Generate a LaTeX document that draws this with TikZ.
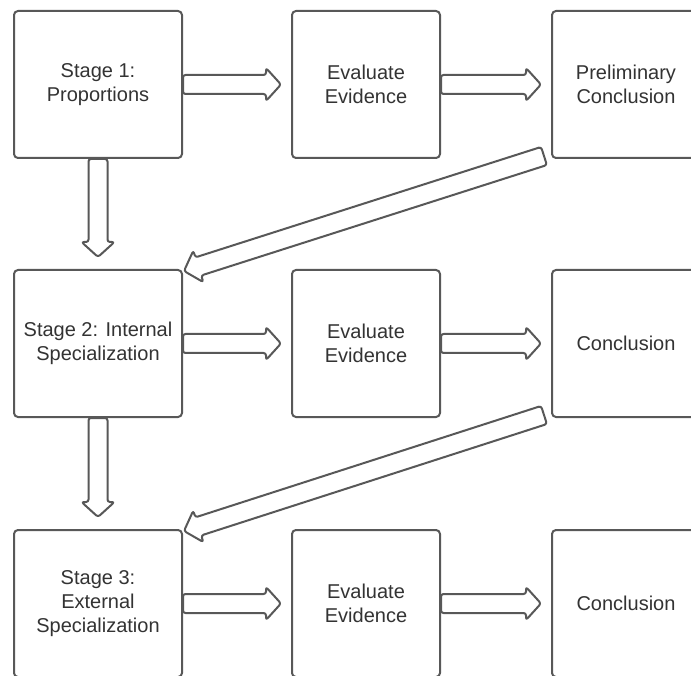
\documentclass[tikz,border=0pt]{standalone}
\usepackage{fontspec}
\setmainfont{Liberation Sans}
\usetikzlibrary{calc}
\definecolor{edge}{HTML}{585858}
\definecolor{txt}{HTML}{333333}
\tikzset{
  box/.style={draw=edge, line width=2pt, rounded corners=4pt, fill=white, text=txt,
    align=center, font=\fontsize{20}{24}\selectfont, minimum height=147pt, inner sep=0pt},
  wide/.style={box, minimum width=168pt},
  narrow/.style={box, minimum width=148pt},
  barrow/.style={draw=edge, line width=2pt, fill=white, rounded corners=2.5pt, line join=round},
}
\newcommand{\bkarrow}[2]{%
  \coordinate (bkA) at #1;
  \coordinate (bkB) at #2;
  \coordinate (bkH) at ($(bkB)!15pt!(bkA)$);
  \draw[barrow] ($(bkA)!9.5pt!90:(bkB)$) -- ($(bkH)!9.5pt!90:(bkB)$) -- ($(bkH)!16.5pt!90:(bkB)$)
    -- (bkB) -- ($(bkH)!16.5pt!-90:(bkB)$) -- ($(bkH)!9.5pt!-90:(bkB)$) -- ($(bkA)!9.5pt!-90:(bkB)$) -- cycle;
}
\begin{document}
\begin{tikzpicture}[x=1pt,y=-1pt]
\useasboundingbox[fill=white] (0,0) rectangle (691,676);
% row 1
\node[wide]   (b11) at (98,84.5)  {Stage 1:\\Proportions};
\node[narrow] (b12) at (366,84.5) {Evaluate\\Evidence};
\node[narrow] (b13) at (626,84.5) {Preliminary\\Conclusion};
% row 2
\node[wide]   (b21) at (98,343.5)  {Stage 2: Internal\\Specialization};
\node[narrow] (b22) at (366,343.5) {Evaluate\\Evidence};
\node[narrow] (b23) at (626,343.5) {Conclusion};
% row 3
\node[wide]   (b31) at (98,603.5)  {Stage 3:\\External\\Specialization};
\node[narrow] (b32) at (366,603.5) {Evaluate\\Evidence};
\node[narrow] (b33) at (626,603.5) {Conclusion};
% horizontal arrows
\bkarrow{(b11.east)}{($(b12.west)+(-10,0)$)}
\bkarrow{(b12.east)}{($(b13.west)+(-10,0)$)}
\bkarrow{(b21.east)}{($(b22.west)+(-10,0)$)}
\bkarrow{(b22.east)}{($(b23.west)+(-10,0)$)}
\bkarrow{(b31.east)}{($(b32.west)+(-10,0)$)}
\bkarrow{(b32.east)}{($(b33.west)+(-10,0)$)}
% vertical arrows
\bkarrow{(b11.south)}{($(b21.north)+(0,-12)$)}
\bkarrow{(b21.south)}{($(b31.north)+(0,-12)$)}
% diagonal arrows
\bkarrow{($(b13.south west)+(-7,-3)$)}{($(b21.north east)+(1,2)$)}
\bkarrow{($(b23.south west)+(-7,-3)$)}{($(b31.north east)+(1,2)$)}
\end{tikzpicture}
\end{document}
